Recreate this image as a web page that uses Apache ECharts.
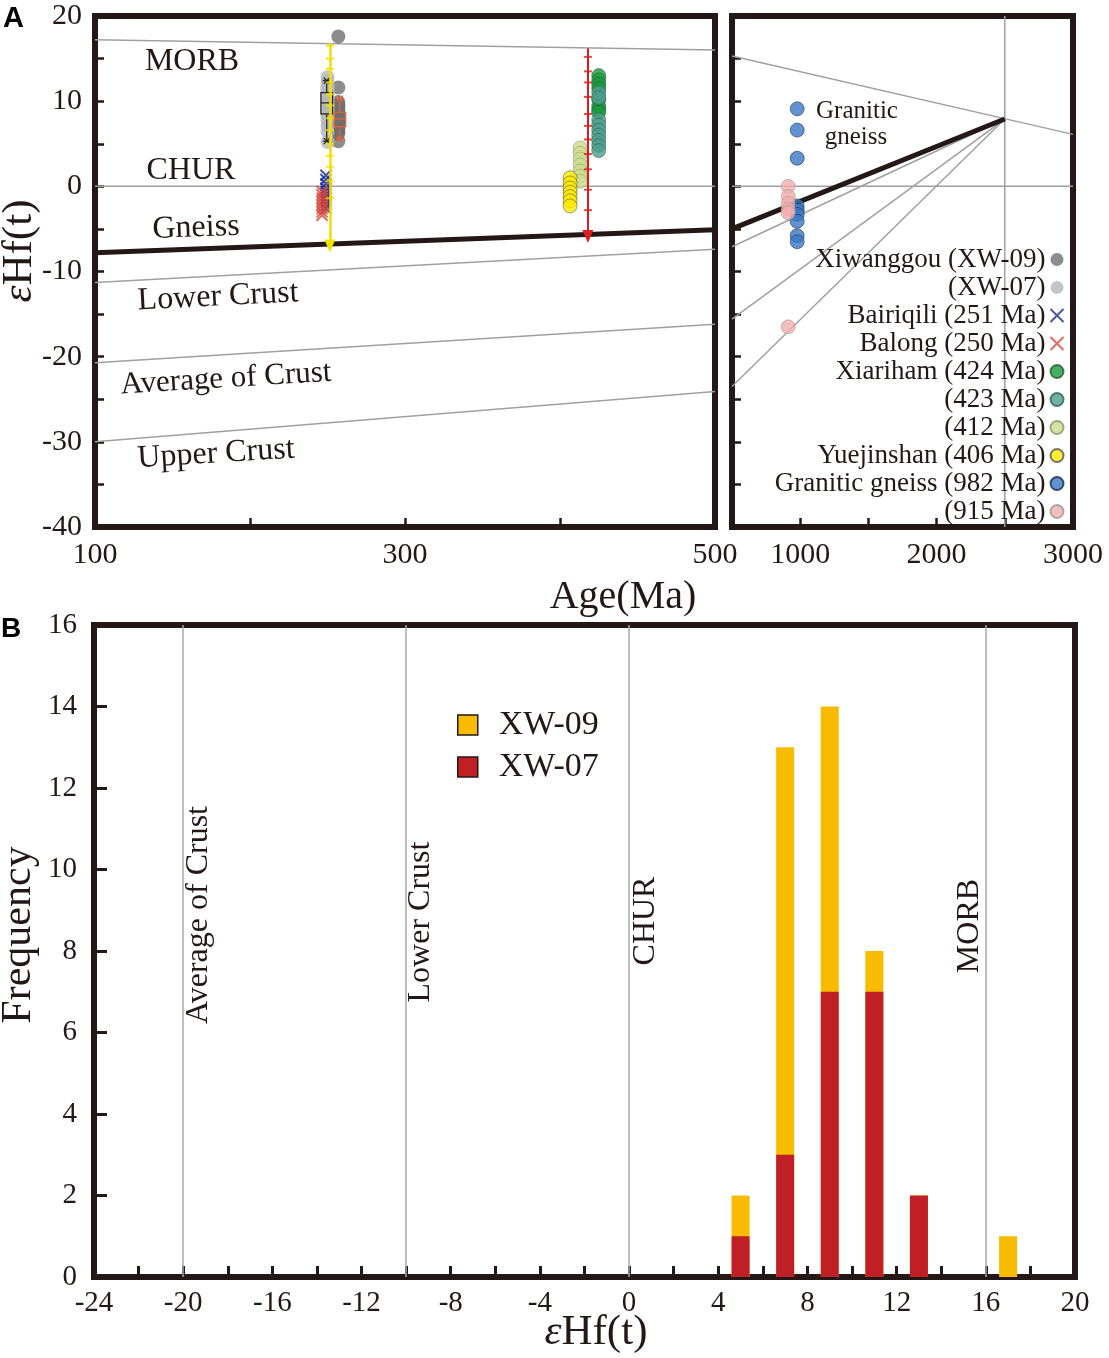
<!DOCTYPE html>
<html><head><meta charset="utf-8">
<script src="https://cdn.jsdelivr.net/npm/echarts@6/dist/echarts.min.js"></script>
<style>html,body{margin:0;padding:0;background:#fff}#c{width:1109px;height:1358px}</style>
</head><body><div id="c"></div>
<script>
// ================= Panel A data =================
const xw09Age = 257;
const xw09Hf = [5.3,6.2,6.5,6.8,7.0,7.2,7.4,7.5,7.7,7.8,7.9,8.1,8.4,8.7,9.0,9.3,9.6,9.9,11.6,17.6];
const xw07Age = 250;
const xw07Hf = [5.2,6.4,7.1,7.7,8.2,8.5,8.8,9.1,9.4,9.6,9.9,10.2,10.5,10.8,11.1,11.4,11.6,11.9,12.3,12.8];
const bairiqiliAge = 249;
const bairiqiliHf = [1.3,0.8,0.3,-0.2,-0.6,-1.0,-1.4,-1.8,-2.2,-2.6];
const balongAge = 246.5;
const balongHf = [-0.6,-1.0,-1.4,-1.8,-2.2,-2.6,-3.0,-3.4];
const xiariham424Age = 425;
const xiariham424Hf = [13.0,12.5,12.0,11.5,10.2,9.4,9.0,8.7];
const xiariham423Age = 425;
const xiariham423Hf = [11.0,10.4,7.8,7.2,6.6,6.0,5.4,4.8,4.2];
const xiariham412Age = 413;
const xiariham412Hf = [4.5,3.9,3.2,2.5,1.8,1.2,0.6];
const yuejinshanAge = 406.5;
const yuejinshanHf = [1.0,0.4,-0.2,-0.7,-1.2,-1.7,-2.3];
const gneiss982Age = 978;
const gneiss982Hf = [9.1,6.6,3.3,-2.3,-2.8,-3.3,-4.1,-5.8,-6.5];
const gneiss915Age = 912;
const gneiss915Hf = [0.0,-1.2,-2.0,-2.7,-3.1,-16.5];

// box plots: [age, low, q1, median, q3, high]
const boxStats = [[249.5,5.3,8.5,9.8,11.0,12.4],[258,5.6,7.0,7.9,8.7,10.3]];
// vertical ranges with tick marks
const yellowAge = 251.5;
const yellowRange = [16.8,-7.0];
const yellowTicks = [16.5,15.0,13.8,12.2,10.8,9.5,8.0,6.6,5.0,3.6,2.3,0.6,-1.4];
const redAge = 418;
const redRange = [16.2,-5.9];
const redTicks = [15.2,13.5,12.2,10.5,8.5,7.1,5.5,3.8,2.0,-0.4,-2.8];

// evolution lines [age, eHf]
const leftMORB = [[100,17.2],[500,16.0]];
const leftCHUR = [[100,0],[500,0]];
const leftGneiss = [[100,-7.8],[500,-5.1]];
const leftLower = [[100,-11.3],[500,-7.4]];
const leftAverage = [[100,-20.7],[500,-16.2]];
const leftUpper = [[100,-30.0],[500,-24.1]];
const rightMORB = [[500,15.3],[3000,6.1]];
const rightCHUR = [[500,0],[3000,0]];
const rightGneiss = [[500,-5.0],[2500,7.9]];
const rightLower = [[500,-7.1],[2500,7.9]];
const rightAverage = [[500,-15.6],[2500,7.9]];
const rightUpper = [[500,-23.5],[2500,7.9]];
const rightVertical = [[2500,-40],[2500,20]];

const leftXLabels = [100,300,500];
const rightXLabels = [1000,2000,3000];

// ================= Panel B data =================
const binCenters = [5,7,9,11,13,17];
const xw07Counts = [1,3,7,7,2,0];
const xw09Counts = [1,10,7,1,0,1];
const refLinesB = [-20,-10,0,16];

// ================= styling =================
const SERIF = '"Liberation Serif","Times New Roman",serif';
const DARK = '#231815';
const GRAY = '#a0a0a0';
const CROSS = 'path://M0,0L10,10M10,0L0,10';

const chart = echarts.init(document.getElementById('c'));

function pts(age, arr){ return arr.map(v => [age, v]); }
function sc(name, grid, age, arr, color, border, symbol){
  const cross = symbol === CROSS;
  return {
    type:'scatter', name, xAxisIndex:grid, yAxisIndex:grid, z:3,
    symbol: symbol || 'circle', symbolSize: cross ? 11 : 14,
    itemStyle: cross ? {color:'none', borderColor:color, borderWidth:2}
                     : {color, borderColor:border || color, borderWidth: border ? 0.7 : 0},
    data: pts(age, arr), silent:true
  };
}
function ln(grid, data, color, width, z){
  return {type:'line', xAxisIndex:grid, yAxisIndex:grid, data, symbol:'none', silent:true,
    lineStyle:{color, width}, z: z || 1, animation:false};
}
const txt = (s, x, y, size, rot, extra) => Object.assign({
  type:'text', x, y, rotation: rot || 0,
  style:{text:s, font: size + 'px ' + SERIF, fill:DARK, textAlign:'center', textVerticalAlign:'middle'}
}, extra || {});

const tickStyle = {show:true, inside:true, length:9, lineStyle:{color:DARK, width:2.5}};
const labStyle = {color:DARK, fontFamily:SERIF, fontSize:30};
const noLine = {show:false, onZero:false};

const option = {
  animation:false,
  backgroundColor:'#fff',
  grid:[
    {left:95, top:16, width:620, height:511, show:true, borderColor:DARK, borderWidth:6, backgroundColor:'transparent'},
    {left:732, top:16, width:341, height:511, show:true, borderColor:DARK, borderWidth:6, backgroundColor:'transparent'},
    {left:94, top:625, width:981, height:652, show:true, borderColor:DARK, borderWidth:6, backgroundColor:'transparent'}
  ],
  xAxis:[
    {type:'value', gridIndex:0, min:100, max:500, interval:100, axisLine:noLine, splitLine:{show:false},
     axisTick:tickStyle, axisLabel:Object.assign({margin:13, formatter:v => leftXLabels.includes(v) ? String(v) : ''}, labStyle)},
    {type:'value', gridIndex:1, min:500, max:3000, interval:500, axisLine:noLine, splitLine:{show:false},
     axisTick:tickStyle, axisLabel:Object.assign({margin:13, formatter:v => rightXLabels.includes(v) ? String(v) : ''}, labStyle)},
    {type:'value', gridIndex:2, min:-24, max:20, interval:2, axisLine:noLine, splitLine:{show:false},
     axisTick:{show:true, inside:true, length:11, lineStyle:{color:DARK, width:3}},
     axisLabel:Object.assign({}, labStyle, {fontSize:29, margin:12, formatter:v => (v % 4 === 0) ? String(v) : ''})}
  ],
  yAxis:[
    {type:'value', gridIndex:0, min:-40, max:20, interval:5, axisLine:noLine, splitLine:{show:false},
     axisTick:tickStyle, axisLabel:Object.assign({margin:13, formatter:v => (v % 10 === 0) ? String(v) : ''}, labStyle)},
    {type:'value', gridIndex:1, min:-40, max:20, interval:5, axisLine:noLine, splitLine:{show:false},
     axisTick:tickStyle, axisLabel:{show:false}},
    {type:'value', gridIndex:2, min:0, max:16, interval:2, axisLine:noLine, splitLine:{show:false},
     axisTick:{show:true, inside:true, length:13, lineStyle:{color:DARK, width:3}},
     axisLabel:Object.assign({}, labStyle, {fontSize:29, margin:17})}
  ],
  legend:[
    {data:['Xiwanggou (XW-09)','(XW-07)','Bairiqili (251 Ma)','Balong (250 Ma)','Xiariham (424 Ma)','(423 Ma)','(412 Ma)','Yuejinshan (406 Ma)','Granitic gneiss (982 Ma)','(915 Ma)'],
     orient:'vertical', align:'right', right:43, top:246, padding:0, itemGap:1, itemWidth:13, itemHeight:13,
     selectedMode:false, textStyle:{fontFamily:SERIF, fontSize:27, color:DARK}},
    {data:['XW-09','XW-07'], orient:'vertical', left:457, top:708, padding:0, itemGap:8, itemWidth:20, itemHeight:20,
     selectedMode:false, icon:'rect', itemStyle:{borderColor:DARK, borderWidth:1.5},
     textStyle:{fontFamily:SERIF, fontSize:34, color:DARK, padding:[0,0,0,16]}}
  ],
  series:[
    // reference lines, left panel
    ln(0, leftMORB, GRAY, 1.5), ln(0, leftCHUR, GRAY, 1.5), ln(0, leftLower, GRAY, 1.5),
    ln(0, leftAverage, GRAY, 1.5), ln(0, leftUpper, GRAY, 1.5), ln(0, leftGneiss, DARK, 5, 2),
    // reference lines, right panel
    ln(1, rightMORB, GRAY, 1.5), ln(1, rightCHUR, GRAY, 1.5), ln(1, rightLower, GRAY, 1.5),
    ln(1, rightAverage, GRAY, 1.5), ln(1, rightUpper, GRAY, 1.5), ln(1, rightVertical, GRAY, 1.5),
    ln(1, rightGneiss, DARK, 5, 2),
    // data points
    sc('Xiwanggou (XW-09)', 0, xw09Age, xw09Hf, '#6f6f6f'),
    sc('(XW-07)', 0, xw07Age, xw07Hf, '#b7b7b7'),
    sc('Bairiqili (251 Ma)', 0, bairiqiliAge, bairiqiliHf, '#1c2a8c', null, CROSS),
    sc('Balong (250 Ma)', 0, balongAge, balongHf, '#d9443a', null, CROSS),
    sc('Xiariham (424 Ma)', 0, xiariham424Age, xiariham424Hf, '#179b3f', '#2a5a30'),
    sc('(423 Ma)', 0, xiariham423Age, xiariham423Hf, '#4e9c8c', '#2f5f55'),
    sc('(412 Ma)', 0, xiariham412Age, xiariham412Hf, '#cddc8e', '#8a9a60'),
    sc('Yuejinshan (406 Ma)', 0, yuejinshanAge, yuejinshanHf, '#fde800', '#555555'),
    sc('Granitic gneiss (982 Ma)', 1, gneiss982Age, gneiss982Hf, '#3a78c6', '#1a2a4a'),
    sc('(915 Ma)', 1, gneiss915Age, gneiss915Hf, '#f4acac', '#999999'),
    // box plots
    {type:'custom', xAxisIndex:0, yAxisIndex:0, z:4, silent:true, data:boxStats,
     renderItem(params, api){
       const x = api.value(0);
       const lo = api.coord([x, api.value(1)]), q1 = api.coord([x, api.value(2)]),
             md = api.coord([x, api.value(3)]), q3 = api.coord([x, api.value(4)]),
             hi = api.coord([x, api.value(5)]);
       const w = api.size([7.5, 0])[0];
       const c = ['#222222','#e8603c'][params.dataIndex];
       const st = {stroke:c, lineWidth:1.2, fill:'none'};
       const star = (p) => ({type:'group', children:[
         {type:'line', shape:{x1:p[0]-3, y1:p[1]-3, x2:p[0]+3, y2:p[1]+3}, style:st},
         {type:'line', shape:{x1:p[0]-3, y1:p[1]+3, x2:p[0]+3, y2:p[1]-3}, style:st},
         {type:'line', shape:{x1:p[0]-4, y1:p[1], x2:p[0]+4, y2:p[1]}, style:st}
       ]});
       return {type:'group', children:[
         {type:'line', shape:{x1:lo[0], y1:lo[1], x2:q1[0], y2:q1[1]}, style:st},
         {type:'line', shape:{x1:q3[0], y1:q3[1], x2:hi[0], y2:hi[1]}, style:st},
         {type:'rect', shape:{x:q3[0]-w/2, y:q3[1], width:w, height:q1[1]-q3[1]}, style:st},
         {type:'line', shape:{x1:md[0]-w/2, y1:md[1], x2:md[0]+w/2, y2:md[1]}, style:st},
         star(lo), star(hi)
       ]};
     }},
    // yellow range
    {type:'scatter', xAxisIndex:0, yAxisIndex:0, z:5, silent:true, symbol:'rect', symbolSize:[8,2],
     itemStyle:{color:'#f0df00'}, data:pts(yellowAge, yellowTicks),
     markLine:{silent:true, symbol:['none','triangle'], symbolSize:[11,13], label:{show:false},
       lineStyle:{color:'#f0df00', width:2.5, type:'solid'},
       data:[[{coord:[yellowAge, yellowRange[0]]},{coord:[yellowAge, yellowRange[1]]}]]}},
    // red range
    {type:'scatter', xAxisIndex:0, yAxisIndex:0, z:5, silent:true, symbol:'rect', symbolSize:[8,2],
     itemStyle:{color:'#d81e1e'}, data:pts(redAge, redTicks),
     markLine:{silent:true, symbol:['none','triangle'], symbolSize:[11,13], label:{show:false},
       lineStyle:{color:'#d81e1e', width:2, type:'solid'},
       data:[[{coord:[redAge, redRange[0]]},{coord:[redAge, redRange[1]]}]]}},
    // Panel B bars: XW-09 drawn as the upper part of each stacked column (total height), XW-07 in front
    {type:'bar', name:'XW-09', xAxisIndex:2, yAxisIndex:2, barWidth:18, barGap:'-100%', z:3,
     itemStyle:{color:'#f9bb00'}, data:binCenters.map((x,i)=>[x, xw07Counts[i] + xw09Counts[i]]),
     markLine:{silent:true, symbol:'none', label:{show:false}, lineStyle:{color:'#a8a8a8', width:1.5, type:'solid'},
       data:refLinesB.map(v => ({xAxis:v})), z:1}},
    {type:'bar', name:'XW-07', xAxisIndex:2, yAxisIndex:2, barWidth:18, barGap:'-100%', z:4,
     itemStyle:{color:'#c01f25'}, data:binCenters.map((x,i)=>[x, xw07Counts[i]])}
  ],
  graphic:[
    {type:'text', x:3, y:4, style:{text:'A', font:'bold 29px "Liberation Sans",Arial,sans-serif', fill:'#000'}},
    {type:'text', x:1, y:615, style:{text:'B', font:'bold 28px "Liberation Sans",Arial,sans-serif', fill:'#000'}},
    txt('Age(Ma)', 623, 597, 40),
    {type:'text', x:20, y:251, rotation:Math.PI/2,
     style:{text:'{e|ε}Hf(t)', font:'43px ' + SERIF, fill:DARK, textAlign:'center', textVerticalAlign:'middle',
       rich:{e:{fontStyle:'italic', fontSize:43, fontFamily:SERIF, fill:DARK}}}},
    {type:'text', x:596, y:1333,
     style:{text:'{e|ε}Hf(t)', font:'43px ' + SERIF, fill:DARK, textAlign:'center', textVerticalAlign:'middle',
       rich:{e:{fontStyle:'italic', fontSize:43, fontFamily:SERIF, fill:DARK}}}},
    txt('Frequency', 19, 935, 42, Math.PI/2),
    // panel A labels
    txt('MORB', 192, 62, 32),
    txt('CHUR', 191, 171, 32),
    txt('Gneiss', 196, 228, 32, 2*Math.PI/180),
    txt('Lower Crust', 218, 297, 32, 3*Math.PI/180),
    txt('Average of Crust', 226, 379, 31, 3.5*Math.PI/180),
    txt('Upper Crust', 216, 454, 32, 3.5*Math.PI/180),
    txt('Granitic', 857, 111, 25),
    txt('gneiss', 856, 137, 25),
    // panel B labels
    txt('Average of Crust', 199, 915, 32, Math.PI/2),
    txt('Lower Crust', 421, 922, 32, Math.PI/2),
    txt('CHUR', 646, 921, 32, Math.PI/2),
    txt('MORB', 970, 926, 32, Math.PI/2)
  ]
};
chart.setOption(option);
</script></body></html>
